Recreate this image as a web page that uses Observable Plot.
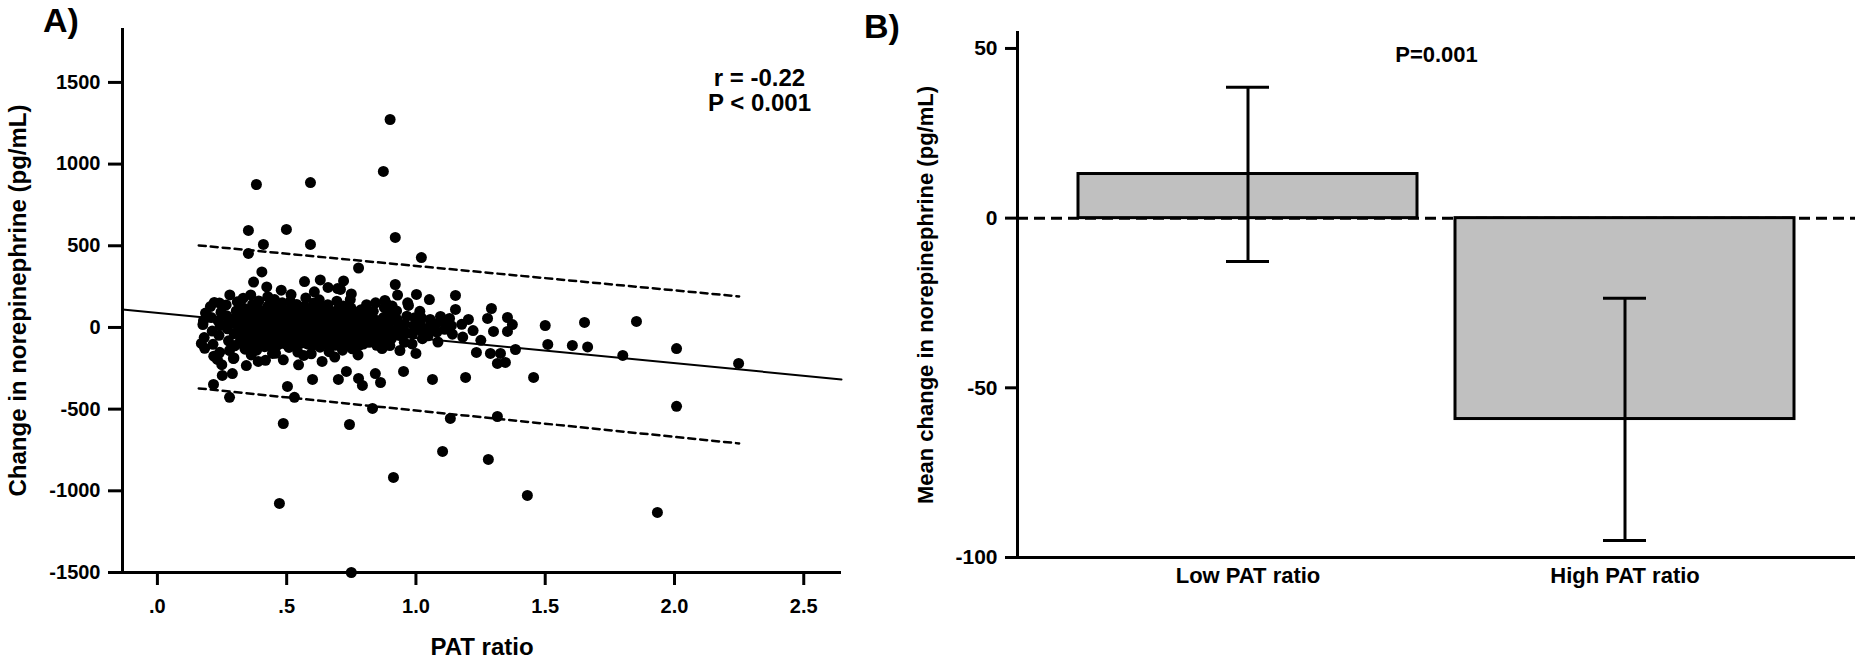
<!DOCTYPE html>
<html>
<head>
<meta charset="utf-8">
<script src="https://cdn.jsdelivr.net/npm/d3@7"></script>
<script src="https://cdn.jsdelivr.net/npm/@observablehq/plot@0.6"></script>
<style>
  html, body { margin: 0; padding: 0; background: #fff; }
  #wrap { position: relative; width: 1864px; height: 664px; overflow: hidden; background: #fff; font-family: "Liberation Sans", Arial, sans-serif; }
  .panel { position: absolute; top: 0; }
  .tag { position: absolute; font-weight: bold; font-size: 34px; line-height: 34px; color: #000; z-index: 5; }
</style>
</head>
<body>
<div id="wrap">
  <div id="panelA" class="panel" style="left:0px;"></div>
  <div id="panelB" class="panel" style="left:860px;"></div>
  <div class="tag" style="left:43px; top:3px;">A)</div>
  <div class="tag" style="left:864px; top:9px;">B)</div>
</div>
<script>
// ---------- Panel A data ----------
const xDomainA = [-0.135, 2.646];
const yDomainA = [-1500, 1830];
const xTicksA = [0, 0.5, 1.0, 1.5, 2.0, 2.5];
const yTicksA = [-1500, -1000, -500, 0, 500, 1000, 1500];
const xLabelA = "PAT ratio";
const yLabelA = "Change in norepinephrine (pg/mL)";
const statsA = ["r = -0.22", "P < 0.001"];

// [PAT ratio, change in norepinephrine]
const outlierPoints = [
  [0.90,1273],[0.874,955],[0.383,875],[0.592,887],[0.352,594],[0.499,600],[0.41,508],[0.592,508],
  [0.92,551],[1.021,428],[0.352,453],[0.778,364],[0.404,340],[0.372,278],[0.569,281],[0.63,291],
  [0.72,285],[0.92,263],[0.423,248],[0.66,245],[0.708,233],[0.75,205],[0.28,199],[1.002,202],
  [1.052,171],[1.153,196],[1.153,110],[1.292,116],[0.971,135],[0.22,153],[0.24,150],[1.095,67],
  [1.203,49],[1.277,55],[1.354,61],[1.373,18],[1.30,-24],[1.354,-24],[1.50,12],[1.652,31],
  [1.853,37],[1.13,55],[1.006,55],[1.02,61],[0.178,40],[0.88,165],[0.885,147],[1.51,-104],
  [1.605,-110],[1.664,-119],[0.17,-98],[0.232,-196],[0.294,-190],[0.251,-294],[0.29,-282],
  [0.217,-349],[0.279,-428],[0.344,-233],[0.39,-208],[0.445,-159],[0.503,-361],[0.53,-428],
  [0.487,-588],[0.472,-1077],[0.60,-318],[0.70,-318],[0.731,-269],[0.778,-312],[0.793,-355],
  [0.843,-282],[0.863,-337],[0.832,-496],[0.743,-594],[0.913,-918],[0.952,-269],[1.0,-159],
  [1.064,-318],[1.103,-759],[1.133,-557],[1.192,-306],[1.234,-153],[1.288,-159],[1.327,-159],
  [1.315,-220],[1.346,-214],[1.28,-808],[1.315,-545],[1.455,-306],[1.431,-1028],[1.385,-135],
  [1.80,-171],[0.75,-1500],[2.008,-129],[2.248,-220],[2.008,-483],[1.934,-1132]
];

const clusterPoints = [
  [0.181,-62],[0.176,18],[0.186,88],[0.183,-128],
  [0.212,-22],[0.208,61],[0.215,-103],[0.205,128],[0.218,-176],
  [0.243,12],[0.238,-48],[0.246,93],[0.241,-152],[0.235,41],[0.249,-228],
  [0.271,-8],[0.268,72],[0.275,-82],[0.266,138],[0.279,-141],[0.273,29],
  [0.302,22],[0.297,-38],[0.305,101],[0.299,-112],[0.309,158],[0.296,-187],[0.303,62],
  [0.331,-18],[0.336,52],[0.328,-71],[0.334,118],[0.339,-133],[0.326,11],[0.332,179],
  [0.362,31],[0.357,-9],[0.365,82],[0.359,-58],[0.368,141],[0.356,-121],[0.363,-168],[0.361,199],
  [0.391,2],[0.388,61],[0.394,-41],[0.386,112],[0.397,-88],[0.392,162],[0.384,-139],[0.399,28],
  [0.421,-29],[0.417,42],[0.425,91],[0.419,-79],[0.428,131],[0.415,-118],[0.423,9],[0.427,188],[0.418,-201],
  [0.452,21],[0.447,-19],[0.455,71],[0.449,-62],[0.458,122],[0.444,-109],[0.453,171],[0.446,1],[0.457,-158],
  [0.481,-11],[0.478,52],[0.485,-49],[0.476,101],[0.488,-98],[0.483,151],[0.474,19],[0.487,-198],[0.479,228],
  [0.511,11],[0.507,-31],[0.515,61],[0.505,-69],[0.518,112],[0.509,-122],[0.514,159],[0.503,-9],[0.517,201],
  [0.541,1],[0.537,42],[0.545,-41],[0.536,91],[0.548,-88],[0.539,141],[0.543,-151],[0.535,22],[0.546,-229],
  [0.571,-21],[0.567,31],[0.575,-61],[0.565,81],[0.578,-99],[0.569,129],[0.574,181],[0.566,-171],[0.577,52],
  [0.601,12],[0.597,-11],[0.605,61],[0.596,-52],[0.608,111],[0.599,-109],[0.604,149],[0.595,-161],[0.607,218],
  [0.631,-31],[0.627,21],[0.635,71],[0.625,-69],[0.638,121],[0.629,-121],[0.634,1],[0.626,169],[0.637,-208],
  [0.661,2],[0.657,51],[0.665,-39],[0.655,99],[0.668,-91],[0.659,139],[0.664,-148],[0.656,31],
  [0.691,11],[0.687,-21],[0.695,59],[0.685,-61],[0.698,109],[0.689,-109],[0.694,161],[0.686,-181],[0.697,238],
  [0.721,-9],[0.717,41],[0.725,-51],[0.715,89],[0.728,-99],[0.719,131],[0.724,21],[0.716,-139],
  [0.751,1],[0.747,49],[0.755,-29],[0.745,81],[0.758,-79],[0.749,119],[0.754,-131],[0.746,171],
  [0.781,-19],[0.777,31],[0.785,71],[0.775,-59],[0.788,109],[0.779,-111],[0.784,9],[0.776,-168],
  [0.811,2],[0.807,41],[0.815,-41],[0.805,89],[0.818,-91],[0.809,139],[0.814,-21],
  [0.841,-11],[0.837,51],[0.845,-61],[0.835,99],[0.848,-109],[0.839,19],[0.844,151],
  [0.871,9],[0.867,-29],[0.875,61],[0.865,-79],[0.878,121],[0.869,-129],
  [0.901,-19],[0.897,31],[0.905,-69],[0.895,79],[0.908,131],[0.899,-111],
  [0.931,1],[0.927,49],[0.935,-49],[0.925,101],[0.938,-141],[0.929,198],
  [0.961,-31],[0.957,21],[0.965,69],[0.955,-91],[0.968,151],
  [0.991,11],[0.987,-39],[0.995,59],[0.985,-101],
  [1.021,-21],[1.017,29],[1.025,-69],[1.015,99],
  [1.051,1],[1.047,-51],[1.055,49],
  [1.081,-29],[1.077,21],[1.085,-89],
  [1.111,-11],[1.107,39],
  [1.141,-41],[1.137,11],
  [1.181,-59],[1.177,19],
  [1.221,-19],
  [1.251,-79]
];

// denser core of the cloud
const corePoints = [
  [0.316,-96],[0.318,-44],[0.314,8],[0.319,47],[0.313,96],
  [0.346,-104],[0.348,-52],[0.344,-2],[0.349,54],[0.343,102],
  [0.376,-92],[0.378,-38],[0.374,12],[0.379,58],[0.373,91],
  [0.406,-99],[0.408,-49],[0.404,-4],[0.409,48],[0.403,104],
  [0.436,-94],[0.438,-41],[0.434,6],[0.439,51],[0.433,97],
  [0.466,-106],[0.468,-53],[0.464,-1],[0.469,44],[0.463,99],
  [0.496,-91],[0.498,-39],[0.494,9],[0.499,59],[0.493,106],
  [0.526,-101],[0.528,-47],[0.524,3],[0.529,49],[0.523,94],
  [0.556,-96],[0.558,-54],[0.554,-6],[0.559,53],[0.553,101],
  [0.586,-103],[0.588,-43],[0.584,7],[0.589,46],[0.583,96],
  [0.616,-89],[0.618,-36],[0.614,11],[0.619,56],[0.613,103],
  [0.646,-98],[0.648,-48],[0.644,-3],[0.649,44],[0.643,92],
  [0.676,-105],[0.678,-51],[0.674,4],[0.679,52],[0.673,98],
  [0.706,-93],[0.708,-42],[0.704,8],[0.709,57],[0.703,101],
  [0.736,-99],[0.738,-47],[0.734,-2],[0.739,49],[0.733,96],
  [0.766,-94],[0.768,-39],[0.764,6],[0.769,46],[0.763,94],
  [0.796,-102],[0.798,-51],[0.794,1],[0.799,53],[0.793,99],
  [0.826,-88],[0.828,-44],[0.824,9],[0.829,48],
  [0.856,-96],[0.858,-46],[0.854,-4],[0.859,41],
  [0.886,-84],[0.888,-42],[0.884,6],[0.889,52]
];

// regression fit and 95% prediction limits (endpoints)
const fitX = [-0.135, 2.646];
const fitY = [110, -318];
const bandX = [0.16, 2.25];
const upperY = [502, 190];
const lowerY = [-373, -710];

// ---------- Panel B data ----------
const groups = ["Low PAT ratio", "High PAT ratio"];
const means = [13, -59.2];
const ciLow = [-12.8, -95];
const ciHigh = [38.6, -23.6];
const yDomainB = [-100, 54.7];
const yTicksB = [-100, -50, 0, 50];
const yLabelB = "Mean change in norepinephrine (pg/mL)";
const statB = "P=0.001";

const FONT = "'Liberation Sans', Arial, Helvetica, sans-serif";

// ---------- Panel A ----------
const points = outlierPoints.concat(clusterPoints, corePoints).map(([x, y]) => ({x, y}));
const fitData = fitX.map((x, i) => ({x, y: fitY[i]}));
const upperData = bandX.map((x, i) => ({x, y: upperY[i]}));
const lowerData = bandX.map((x, i) => ({x, y: lowerY[i]}));

const fmtX = d => d3.format(".1f")(d).replace(/^0/, "");

const chartA = Plot.plot({
  width: 860,
  height: 664,
  marginLeft: 122,
  marginRight: 19,
  marginTop: 28,
  marginBottom: 92,
  style: {fontFamily: FONT, fontSize: "20px", fontWeight: "bold", color: "#000", background: "transparent", overflow: "visible"},
  x: {domain: xDomainA},
  y: {domain: yDomainA},
  marks: [
    Plot.ruleX([xDomainA[0]], {stroke: "#000", strokeWidth: 3}),
    Plot.ruleY([yDomainA[0]], {stroke: "#000", strokeWidth: 3}),
    Plot.axisX({ticks: xTicksA, tickFormat: fmtX, tickSize: 13, tickPadding: 13, strokeWidth: 3,
      label: null}),
    Plot.axisY({ticks: yTicksA, tickFormat: d => String(d), tickSize: 14, tickPadding: 8, strokeWidth: 3,
      label: null}),
    Plot.text([xLabelA], {frameAnchor: "bottom", lineAnchor: "bottom", dy: 82, fontSize: 24}),
    Plot.text([yLabelA], {frameAnchor: "left", textAnchor: "middle", rotate: -90, lineAnchor: "top", dx: -114, fontSize: 24}),
    Plot.dot(points, {x: "x", y: "y", r: 5.5, fill: "#000", stroke: "none"}),
    Plot.line(fitData, {x: "x", y: "y", stroke: "#000", strokeWidth: 2}),
    Plot.line(upperData, {x: "x", y: "y", stroke: "#000", strokeWidth: 2.5, strokeDasharray: "7,5"}),
    Plot.line(lowerData, {x: "x", y: "y", stroke: "#000", strokeWidth: 2.5, strokeDasharray: "7,5"}),
    Plot.text([statsA.join("\n")], {frameAnchor: "top-right", textAnchor: "middle", lineAnchor: "top",
      dx: -82, dy: 40, lineHeight: 1.04, fontSize: 24})
  ]
});
document.getElementById("panelA").appendChild(chartA);

// ---------- Panel B ----------
const barData = groups.map((g, i) => ({group: g, mean: means[i], lo: ciLow[i], hi: ciHigh[i]}));

const chartB = Plot.plot({
  width: 1004,
  height: 664,
  marginLeft: 157,
  marginRight: 9,
  marginTop: 32,
  marginBottom: 107,
  style: {fontFamily: FONT, fontSize: "21px", fontWeight: "bold", color: "#000", background: "transparent", overflow: "visible"},
  x: {domain: groups, paddingInner: 0.1, paddingOuter: 0.161},
  y: {domain: yDomainB},
  marks: [
    Plot.ruleY([0], {stroke: "#000", strokeWidth: 3, strokeDasharray: "11,6"}),
    Plot.barY(barData, {x: "group", y: "mean", fill: "#c0c0c0", stroke: "#000", strokeWidth: 3}),
    Plot.ruleX(barData, {x: "group", y1: "lo", y2: "hi", stroke: "#000", strokeWidth: 3}),
    Plot.tickY(barData, {x: "group", y: "lo", stroke: "#000", strokeWidth: 3, insetLeft: 148, insetRight: 148}),
    Plot.tickY(barData, {x: "group", y: "hi", stroke: "#000", strokeWidth: 3, insetLeft: 148, insetRight: 148}),
    Plot.ruleY([yDomainB[0]], {stroke: "#000", strokeWidth: 3}),
    Plot.frame({anchor: "left", stroke: "#000", strokeWidth: 3}),
    Plot.axisX({tickSize: 0, tickPadding: 10, label: null, fontSize: 22}),
    Plot.axisY({ticks: yTicksB, tickFormat: d => String(d), tickSize: 12, tickPadding: 8, strokeWidth: 3, label: null}),
    Plot.text([yLabelB], {frameAnchor: "left", textAnchor: "middle", rotate: -90, lineAnchor: "top", dx: -100, fontSize: 22}),
    Plot.text([statB], {frameAnchor: "top", lineAnchor: "middle", dy: 22, fontSize: 22})
  ]
});
document.getElementById("panelB").appendChild(chartB);
</script>
</body>
</html>
